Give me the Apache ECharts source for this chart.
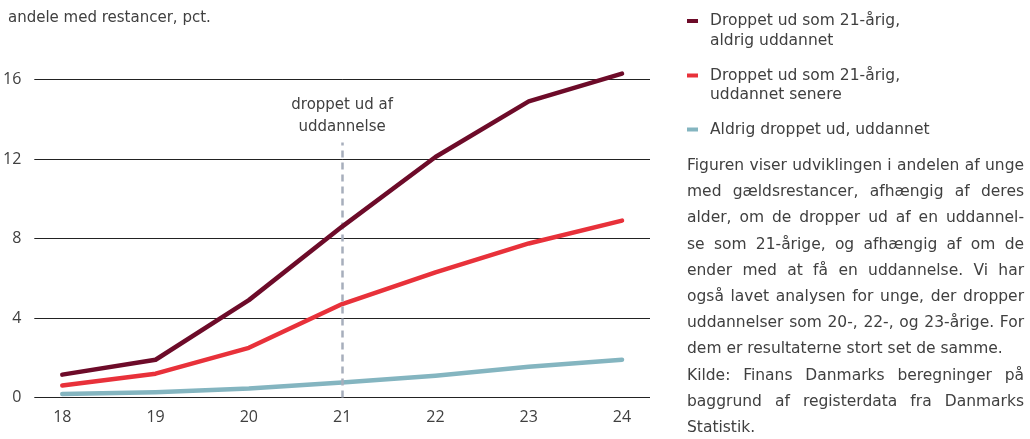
<!DOCTYPE html>
<html>
<head>
<meta charset="utf-8">
<script src="https://cdn.jsdelivr.net/npm/echarts@6/dist/echarts.min.js"></script>
<style>
html,body{margin:0;padding:0;background:#fff;}
#c{width:1030px;height:439px;}
</style>
</head>
<body>
<div id="c"></div>
<script>
// ---- data ----
const years = [18, 19, 20, 21, 22, 23, 24];
const droppedNeverEducated = [1.15, 1.9, 4.9, 8.6, 12.1, 14.9, 16.3];
const droppedEducatedLater = [0.6, 1.2, 2.5, 4.7, 6.3, 7.75, 8.9];
const neverDroppedEducated = [0.18, 0.27, 0.45, 0.75, 1.1, 1.55, 1.9];
const yTicks = [0, 4, 8, 12, 16];
const seriesNames = [
  'Droppet ud som 21-årig, aldrig uddannet',
  'Droppet ud som 21-årig, uddannet senere',
  'Aldrig droppet ud, uddannet'
];
const legendLines = [
  ['Droppet ud som 21-årig,', 'aldrig uddannet'],
  ['Droppet ud som 21-årig,', 'uddannet senere'],
  ['Aldrig droppet ud, uddannet']
];
const dropoutAge = 21;
const dropoutLabel = 'droppet ud af\nuddannelse';
const yTitle = 'andele med restancer, pct.';
const noteLines = [
  'Figuren viser udviklingen i andelen af unge',
  'med gældsrestancer, afhængig af deres',
  'alder, om de dropper ud af en uddannel-',
  'se som 21-årige, og afhængig af om de',
  'ender med at få en uddannelse. Vi har',
  'også lavet analysen for unge, der dropper',
  'uddannelser som 20-, 22-, og 23-årige. For',
  'dem er resultaterne stort set de samme.',
  'Kilde: Finans Danmarks beregninger på',
  'baggrund af registerdata fra Danmarks',
  'Statistik.'
];
const noteNotJustified = [7, 10];

// ---- styles ----
const FONT = '"DejaVu Sans", "Open Sans", sans-serif';
const TICKFONT = '"Open Sans", "Noto Sans", sans-serif';
const TXT = '#404040';
const colors = ['#6d0b29', '#e8313a', '#84b5c0'];

const chart = echarts.init(document.getElementById('c'), null, {renderer: 'canvas'});

const pair = arr => years.map((y, i) => [y, arr[i]]);

// justified note paragraph built from word widths
const P_SIZE = 15.5;
const P_LEFT = 687, P_RIGHT = 1024, P_TOP = 166, P_LH = 26.2;
const mctx = document.createElement('canvas').getContext('2d');
mctx.font = P_SIZE + 'px ' + FONT;
const graphics = [];
noteLines.forEach((line, li) => {
  const y = P_TOP + li * P_LH;
  if (noteNotJustified.includes(li)) {
    graphics.push({type: 'text', x: P_LEFT, y: y, silent: true,
      style: {text: line, font: P_SIZE + 'px ' + FONT, fill: TXT, verticalAlign: 'middle'}});
    return;
  }
  const words = line.split(' ');
  const widths = words.map(w => mctx.measureText(w).width);
  const total = widths.reduce((a, b) => a + b, 0);
  const gap = (P_RIGHT - P_LEFT - total) / (words.length - 1);
  let x = P_LEFT;
  words.forEach((w, wi) => {
    graphics.push({type: 'text', x: x, y: y, silent: true,
      style: {text: w, font: P_SIZE + 'px ' + FONT, fill: TXT, verticalAlign: 'middle'}});
    x += widths[wi] + gap;
  });
});

// title
graphics.push({type: 'text', x: 8, y: 18, silent: true,
  style: {text: yTitle, font: '15px ' + FONT, fill: TXT, verticalAlign: 'middle'}});

// second lines of legend entries
const LEG_SIZE = 15.5;
const legendTops = [18.5, 73, 127];
legendLines.forEach((ls, i) => {
  if (ls.length > 1) {
    graphics.push({type: 'text', x: 710, y: legendTops[i] + 22, silent: true,
      style: {text: ls[1], font: LEG_SIZE + 'px ' + FONT, fill: TXT, verticalAlign: 'middle'}});
  }
});

const legends = seriesNames.map((n, i) => ({
  data: [n],
  left: 687,
  top: legendTops[i] - 8.5,
  padding: 0,
  icon: 'rect',
  itemWidth: 11,
  itemHeight: 4,
  selectedMode: false,
  formatter: () => legendLines[i][0],
  textStyle: {fontFamily: FONT, fontSize: LEG_SIZE, color: TXT, lineHeight: 22, padding: [0, 0, 0, 7]}
}));

const lineSeries = [droppedNeverEducated, droppedEducatedLater, neverDroppedEducated].map((arr, i) => ({
  name: seriesNames[i],
  type: 'line',
  data: pair(arr),
  showSymbol: false,
  symbol: 'none',
  clip: false,
  lineStyle: {width: 4.5, color: colors[i], cap: 'round', join: 'round'},
  itemStyle: {color: colors[i]},
  z: 3 - i + 2
}));

lineSeries[0].markLine = {
  silent: true,
  symbol: 'none',
  animation: false,
  lineStyle: {color: '#a7aebc', type: [7, 5], width: 2.5},
  label: {show: true, position: 'end', formatter: dropoutLabel, fontFamily: FONT, fontSize: 15,
    color: TXT, lineHeight: 22, distance: 4},
  data: [[{coord: [dropoutAge, 0]}, {coord: [dropoutAge, 12.83]}]]
};

chart.setOption({
  animation: false,
  backgroundColor: '#fff',
  textStyle: {fontFamily: FONT},
  legend: legends,
  graphic: graphics,
  grid: {left: 34, right: 380, top: 79.5, bottom: 41.5, containLabel: false},
  xAxis: {
    type: 'value',
    min: 17.7,
    max: 24.3,
    axisLine: {show: false},
    axisTick: {show: false},
    splitLine: {show: false},
    axisLabel: {customValues: years, fontFamily: TICKFONT, fontSize: 16, color: TXT, margin: 12}
  },
  yAxis: {
    type: 'value',
    min: 0,
    max: 16,
    interval: 4,
    axisLine: {show: false},
    axisTick: {show: false},
    splitLine: {lineStyle: {color: '#222', width: 1}},
    axisLabel: {customValues: yTicks, fontFamily: TICKFONT, fontSize: 16, color: TXT, margin: 13}
  },
  series: lineSeries
});
</script>
</body>
</html>
